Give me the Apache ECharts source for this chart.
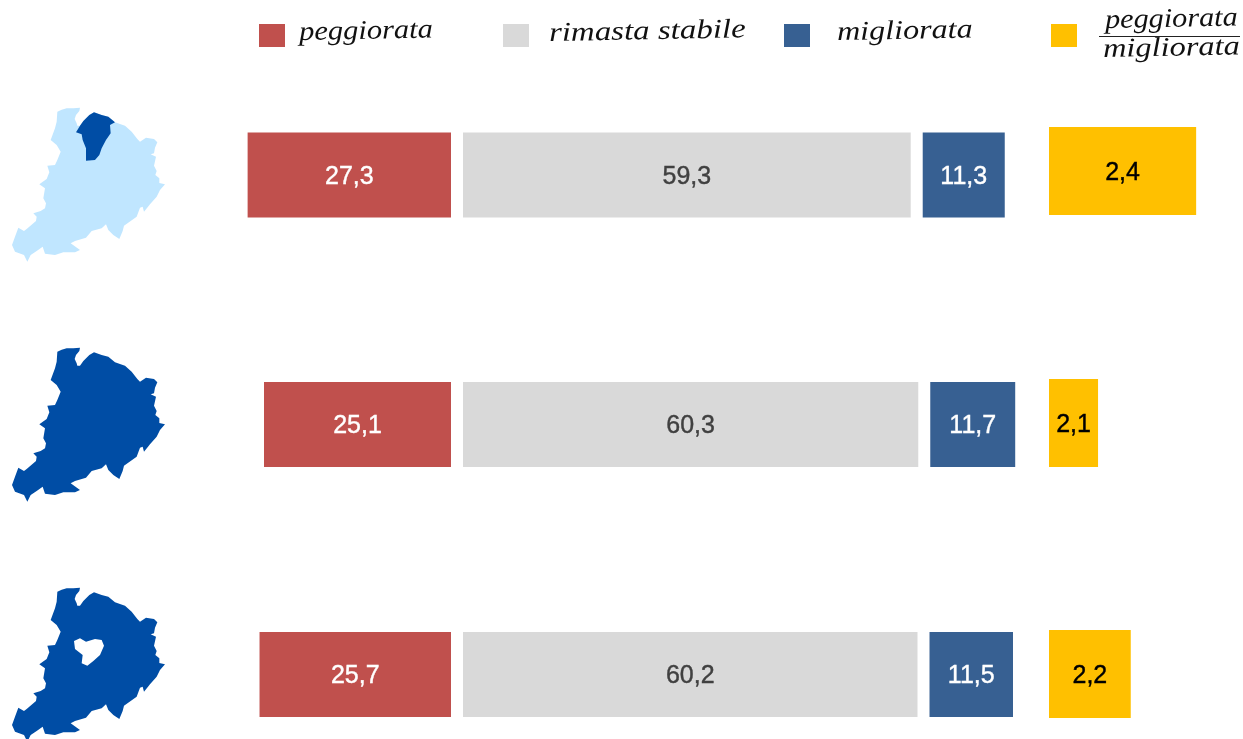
<!DOCTYPE html>
<html>
<head>
<meta charset="utf-8">
<title>peggiorata / migliorata</title>
<style>
  html, body { margin: 0; padding: 0; background: #fff; }
  #main { width: 1243px; height: 739px; }
</style>
<script src="https://cdn.jsdelivr.net/npm/echarts@6/dist/echarts.min.js"></script>
</head>
<body>
<div id="main"></div>
<script>
var areas = ['area 1', 'area 2', 'area 3'];
var peggiorata = [27.3, 25.1, 25.7];
var stabile = [59.3, 60.3, 60.2];
var migliorata = [11.3, 11.7, 11.5];
var rapporto = [2.4, 2.1, 2.2];

var outline = [[172,50],[185,44],[200,40],[220,40],[240,38],[238,48],[228,60],[224,72],[230,85],[232,92],[240,92],[250,78],[268,60],[282,52],[305,60],[325,65],[345,82],[362,88],[375,92],[395,110],[412,132],[420,140],[438,128],[462,132],[472,142],[465,158],[462,175],[452,178],[468,185],[462,212],[470,228],[466,240],[478,250],[478,264],[495,268],[480,285],[470,305],[450,328],[432,350],[428,335],[420,338],[410,365],[392,378],[372,392],[368,408],[358,432],[340,420],[325,405],[318,388],[305,400],[275,408],[258,428],[225,438],[212,445],[240,465],[225,472],[190,472],[165,480],[135,476],[128,455],[110,468],[92,480],[82,500],[72,480],[45,470],[36,450],[45,425],[55,398],[72,408],[80,402],[108,378],[110,365],[100,355],[122,348],[135,340],[138,325],[130,310],[135,280],[118,268],[140,252],[148,232],[142,212],[165,210],[172,195],[182,170],[170,150],[152,135],[165,100],[170,80]];
var city = [[282,52],[305,60],[325,65],[345,82],[330,90],[332,115],[318,135],[305,160],[298,180],[285,195],[258,197],[258,160],[248,135],[245,118],[228,112],[240,92],[250,78],[268,60]];
var hole = [[222,198],[240,190],[258,200],[285,192],[305,195],[312,212],[300,240],[280,258],[262,272],[245,265],[248,240],[225,222]];

var RED = '#C0504D', GREY = '#D9D9D9', BLUE = '#376092', YELLOW = '#FFC000';
var MAP_DARK = '#004DA5', MAP_LIGHT = '#C0E6FF';
var greyLeft = 463, redPx = 7.45, greyPx = 7.55, bluePx = 7.26, yellowPx = 327, gap = 12;
var rowCentre = [175, 424.5, 674.5], yellowCentre = [171, 423, 674];

function comma(p) {
  return String(p.value).replace('.', ',');
}

function mapShape(points, y, color) {
  return {
    type: 'polygon',
    silent: true,
    shape: { points: points.map(a=>[a[0] / 3, a[1] / 3 + y]) },
    style: { fill: color }
  };
}

function legendBox(x, color) {
  return { type: 'rect', silent: true, shape: { x: x, y: 24, width: 26, height: 23 }, style: { fill: color } };
}

function legendText(name, x, y, stretch) {
  return {
    type: 'text',
    silent: true,
    x: x,
    y: y,
    scaleX: stretch,
    rotation: 0.02,
    style: {
      text: name,
      font: 'italic 27px "Liberation Serif"',
      fill: '#111',
      textVerticalAlign: 'middle'
    }
  };
}

var grids = [], xAxes = [], yAxes = [], series = [];

// every bar sits in its own small grid: the rows are further apart than a shared band allows
function addBar(name, i, box, value, color, labelColor) {
  var index = grids.length;
  grids.push({ left: box.left, width: box.width, top: box.centre - 50, height: 100 });
  xAxes.push({ gridIndex: index, type: 'value', min: box.min, max: box.max, inverse: !!box.inverse, show: false });
  yAxes.push({ gridIndex: index, type: 'category', data: [areas[i]], show: false });
  series.push({
    name: name,
    type: 'bar',
    xAxisIndex: index,
    yAxisIndex: index,
    data: [value],
    barWidth: box.height,
    itemStyle: { color: color },
    label: {
      show: true,
      position: 'inside',
      offset: [0, 2],
      formatter: comma,
      fontFamily: 'Liberation Sans',
      fontSize: 25,
      color: labelColor,
      textBorderColor: labelColor,
      textBorderWidth: 0.4
    }
  });
}

areas.forEach(function (area, i) {
  addBar('peggiorata', i, { left: 451 - 30 * redPx, width: 30 * redPx, min: 0, max: 30, inverse: true, centre: rowCentre[i], height: 85 }, peggiorata[i], RED, '#fff');
  addBar('rimasta stabile', i, { left: greyLeft, width: 70 * greyPx, min: 0, max: 70, centre: rowCentre[i], height: 85 }, stabile[i], GREY, '#404040');
  // the blue bar starts right after the grey one
  addBar('migliorata', i, { left: greyLeft + stabile[i] * greyPx + gap, width: 15 * bluePx, min: 0, max: 15, centre: rowCentre[i], height: 85 }, migliorata[i], BLUE, '#fff');
  // truncated axis, as in the original: the bars start at 1,95
  addBar('peggiorata/migliorata', i, { left: 1049, width: 0.55 * yellowPx, min: 1.95, max: 2.5, centre: yellowCentre[i], height: 88 }, rapporto[i], YELLOW, '#000');
});

var graphics = [
  mapShape(outline, 95, MAP_LIGHT),
  mapShape(city, 95, MAP_DARK),
  mapShape(outline, 335, MAP_DARK),
  mapShape(outline, 575, MAP_DARK),
  mapShape(hole, 575, '#fff'),
  legendBox(259, RED),
  legendBox(503, GREY),
  legendBox(784, BLUE),
  legendBox(1051, YELLOW),
  legendText('peggiorata', 299, 33, 1.13),
  legendText('rimasta stabile', 549, 34, 1.22),
  legendText('migliorata', 837, 33, 1.19),
  legendText('peggiorata', 1105, 21, 1.12),
  legendText('migliorata', 1103, 50, 1.2),
  { type: 'rect', silent: true, shape: { x: 1099, y: 36, width: 141, height: 1 }, style: { fill: '#222' } }
];

var myChart = echarts.init(document.getElementById('main'));
myChart.setOption({
  animation: false,
  backgroundColor: '#fff',
  grid: grids,
  xAxis: xAxes,
  yAxis: yAxes,
  series: series,
  graphic: { elements: graphics }
});
</script>
</body>
</html>
